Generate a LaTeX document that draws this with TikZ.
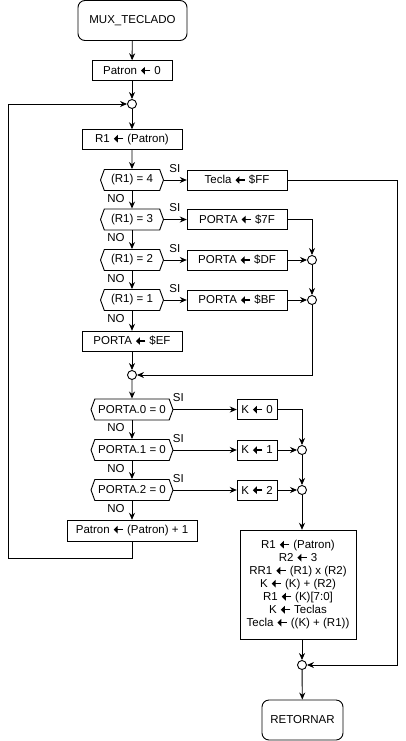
\documentclass[tikz,border=0pt]{standalone}
\usepackage{fontspec}
\setmainfont{Liberation Sans}
\usetikzlibrary{shapes.symbols,arrows.meta}
\newcommand{\asig}{\tikz[baseline=-3.8pt]\draw[line width=1.5pt,-{Triangle[length=4pt,width=7.5pt]}] (9.5pt,0pt) -- (0pt,0pt);}

\begin{document}
\begin{tikzpicture}[x=1pt,y=-1pt,font=\fontsize{11.5}{13}\selectfont,line width=0.9pt,>={Stealth[length=7pt,width=6pt]}]
\tikzstyle{proc node}=[rectangle,draw,inner sep=0pt,minimum height=20pt]
\tikzstyle{term node}=[rectangle,draw,rounded corners=7pt,minimum height=40pt]
\tikzset{
	cond node/.style={signal,signal to=west and east,signal pointer angle=140,draw,inner sep=0pt,minimum height=21pt,minimum width=#1},
	join node/.style={circle,draw,inner sep=0pt,minimum size=9pt},
	si/.style={anchor=south west,inner sep=0pt,xshift=#1,yshift=7pt},
	no/.style={anchor=north east,inner sep=0pt,xshift=-7pt,yshift=-3pt}
}
\useasboundingbox (0,0) rectangle (406,741);

\node[term node,minimum width=109pt] (start) at (132.5,20.5) {MUX\_TECLADO};
\node[proc node,minimum width=80pt] (p0) at (132,70.5) {Patron \asig{} 0};
\node[join node] (j1) at (132,104) {};
\node[proc node,minimum width=100pt] (r1) at (132,139.5) {R1 \asig{} (Patron)};

\node[cond node=63pt] (d4) at (132,180) {(R1) = 4};
\node[cond node=63pt] (d3) at (132,219.5) {(R1) = 3};
\node[cond node=63pt] (d2) at (132,260) {(R1) = 2};
\node[cond node=63pt] (d1) at (132,300) {(R1) = 1};
\node[proc node,minimum width=100pt] (tFF) at (237,180) {Tecla \asig{} \$FF};
\node[proc node,minimum width=100pt] (p7F) at (237,219.5) {PORTA \asig{} \$7F};
\node[proc node,minimum width=100pt] (pDF) at (237,260) {PORTA \asig{} \$DF};
\node[proc node,minimum width=100pt] (pBF) at (237,300) {PORTA \asig{} \$BF};
\node[join node] (jA) at (312,260) {};
\node[join node] (jB) at (312,300) {};
\node[proc node,minimum width=100pt] (pEF) at (132,341) {PORTA \asig{} \$EF};
\node[join node] (j2) at (132,375) {};

\node[cond node=82pt] (a0) at (132,409.5) {PORTA.0 = 0};
\node[cond node=82pt] (a1) at (132,450) {PORTA.1 = 0};
\node[cond node=82pt] (a2) at (132,490) {PORTA.2 = 0};
\node[proc node,minimum width=40pt] (k0) at (257,409.5) {K \asig{} 0};
\node[proc node,minimum width=40pt] (k1) at (257,450) {K \asig{} 1};
\node[proc node,minimum width=40pt] (k2) at (257,490) {K \asig{} 2};
\node[join node] (jC) at (302,450) {};
\node[join node] (jD) at (302,490) {};
\node[proc node,minimum width=130pt,minimum height=21pt] (inc) at (132,530.5) {Patron \asig{} (Patron) + 1};

\node[proc node,minimum width=116pt,minimum height=109pt,align=center] (calc) at (298,584.5) {R1 \asig{} (Patron)\\R2 \asig{} 3\\RR1 \asig{} (R1) x (R2)\\K \asig{} (K) + (R2)\\R1 \asig{} (K)[7:0]\\K \asig{} Teclas\\Tecla \asig{} ((K) + (R1))};
\node[join node] (j3) at (302,665) {};
\node[term node,minimum width=81pt] (ret) at (302.5,720) {RETORNAR};

\coordinate (rgt) at (397,665);
\coordinate (lft) at (8,558);

\draw[->] (start) -- (p0);
\draw[->] (p0) -- (j1);
\draw[->] (j1) -- (r1);
\draw[->] (r1) -- (d4);
\draw[->] (d4.east) -- node[si=5pt,pos=0]{SI} (tFF.west);
\draw[->] (d3.east) -- node[si=5pt,pos=0]{SI} (p7F.west);
\draw[->] (d2.east) -- node[si=5pt,pos=0]{SI} (pDF.west);
\draw[->] (d1.east) -- node[si=5pt,pos=0]{SI} (pBF.west);
\draw[->] (d4.south) -- node[no,pos=0]{NO} (d3.north);
\draw[->] (d3.south) -- node[no,pos=0]{NO} (d2.north);
\draw[->] (d2.south) -- node[no,pos=0]{NO} (d1.north);
\draw[->] (d1.south) -- node[no,pos=0]{NO} (pEF.north);
\draw[->] (tFF.east) -| (rgt) -- (j3.east);
\draw[->] (p7F.east) -| (jA.north);
\draw[->] (pDF.east) -- (jA.west);
\draw[->] (jA.south) -- (jB.north);
\draw[->] (pBF.east) -- (jB.west);
\draw[->] (jB.south) |- (j2.east);
\draw[->] (pEF) -- (j2);
\draw[->] (j2) -- (a0);

\draw[->] (a0.east) -- node[si=-1pt,pos=0]{SI} (k0.west);
\draw[->] (a1.east) -- node[si=-1pt,pos=0]{SI} (k1.west);
\draw[->] (a2.east) -- node[si=-1pt,pos=0]{SI} (k2.west);
\draw[->] (a0.south) -- node[no,pos=0]{NO} (a1.north);
\draw[->] (a1.south) -- node[no,pos=0]{NO} (a2.north);
\draw[->] (a2.south) -- node[no,pos=0]{NO} (inc.north);
\draw[->] (k0.east) -| (jC.north);
\draw[->] (k1.east) -- (jC.west);
\draw[->] (jC.south) -- (jD.north);
\draw[->] (k2.east) -- (jD.west);
\draw[->] (jD.south) -- (jD.south |- calc.north);
\draw[->] (calc.south -| j3) -- (j3.north);
\draw[->] (j3) -- (ret);
\draw[->] (inc.south) |- (lft) |- (j1.west);
\end{tikzpicture}
\end{document}
